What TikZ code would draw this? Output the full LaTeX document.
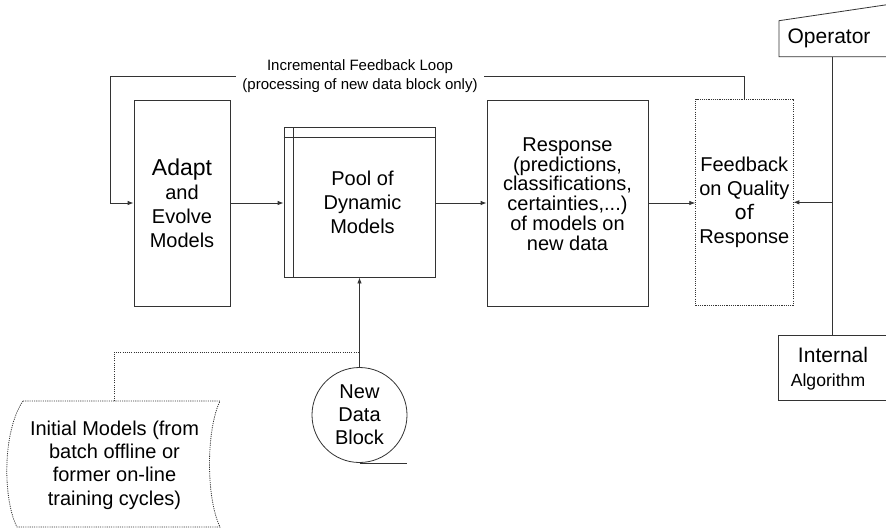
\documentclass[tikz,border=0pt]{standalone}
\usepackage{fontspec}
\setmainfont{Liberation Sans}
\newfontfamily\widefont{DejaVu Sans}
\usetikzlibrary{arrows.meta}
\tikzset{
  ln/.style={draw=black!80, line width=0.8pt},
  dotline/.style={draw=black!80, line width=0.8pt, dash pattern=on 1.1pt off 1.1pt},
  box/.style={ln, rectangle, inner sep=0pt, align=center},
  tip/.style={-{Latex[length=6pt,width=4.5pt]}},
  txt20/.style={font=\fontsize{20}{24}\selectfont},
}
\begin{document}
\begin{tikzpicture}[x=1pt,y=-1pt]
\useasboundingbox (0,0) rectangle (886,531);
\clip (0,0) rectangle (886,531);

% main processing chain
\node[box, txt20, minimum width=96pt, minimum height=206pt] (adapt) at (182,203)
  {{\fontsize{23}{24}\selectfont Adapt}\\and\\Evolve\\Models};
\node[box, txt20, minimum width=151pt, minimum height=149.3pt] (pool) at (359.5,202.4)
  {\hspace*{6pt}Pool of\\\hspace*{6pt}Dynamic\\\hspace*{6pt}Models};
\draw[ln] ([xshift=10pt]pool.north west) -- ([xshift=10pt]pool.south west);
\draw[ln] ([yshift=-9.6pt]pool.north west) -- ([yshift=-9.6pt]pool.north east);
\node[box, minimum width=161pt, minimum height=206pt] (resp) at (567.5,203) {};
\node[align=center, font=\fontsize{20}{19.8}\selectfont] (resptext) at (567.5,194)
  {Response\\(predictions,\\classifications,\\certainties,...)\\of models on\\new data};
\node[box, dotline, txt20, minimum width=97.3pt, minimum height=206.5pt] (fb) at (744.3,202.3)
  {Feedback\\on Quality\\{\widefont\fontsize{20}{24}\selectfont of}\\Response};

% operator and internal algorithm
\draw[ln] (779,56.7) -- (779,20.7) -- (895,3.5) -- (895,56.7) -- cycle;
\node[font=\fontsize{21}{24}\selectfont] (op) at (829,38) {Operator};
\coordinate (opbot) at (832.7,56.7);
\node[box, minimum width=112pt, minimum height=65.7pt] (alg) at (834,367.85) {};
\node[font=\fontsize{21}{24}\selectfont] (algA) at (833,355) {Internal};
\node[font=\fontsize{17.6}{20}\selectfont] (algB) at (828,382) {Algorithm};
\draw[ln] (opbot) -- (opbot |- alg.north);
\draw[ln, tip] (opbot |- fb.east) -- (fb.east);

% new data block
\node[ln, circle, minimum size=95pt, inner sep=0pt, align=center,
      font=\fontsize{20}{23}\selectfont] (data) at (359.5,415) {New\\Data\\Block};
\draw[ln] (data.south) -- ++(47.5,0);
\draw[ln, tip] (data.north) -- (data.north |- pool.south);

% initial models (stored data shape)
\draw[dotline] (23,401) -- (220,401) .. controls (206,430) and (206,498) .. (220,527)
  -- (17,527) .. controls (3,500) and (2,432) .. (23,401) -- cycle;
\node[align=center, font=\fontsize{20}{23.3}\selectfont] (init) at (114.5,465)
  {Initial Models (from\\batch offline or\\former on-line\\training cycles)};
\coordinate (itop) at (114,401);
\coordinate (join) at (359.5,352.3);
\draw[dotline] (itop) |- (join);

% forward connectors
\draw[ln, tip] (adapt.east) -- (pool.west |- adapt.east);
\draw[ln, tip] (pool.east |- resp.west) -- (resp.west);
\draw[ln, tip] (resp.east) -- (fb.west |- resp.east);

% incremental feedback loop
\draw[ln, tip] (fb.north) |- (110.7,76) -- (110.7,203) -- (adapt.west);
\node[fill=white, inner xsep=6pt, inner ysep=0pt, align=center,
      font=\fontsize{15}{19}\selectfont] (looplabel) at (360,76.5)
  {Incremental Feedback Loop\\(processing of new data block only)};
\end{tikzpicture}
\end{document}
